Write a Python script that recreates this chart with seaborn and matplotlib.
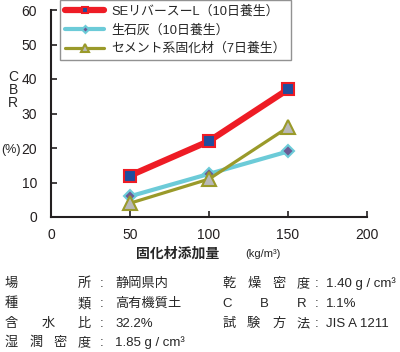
import matplotlib
matplotlib.use("Agg")
import matplotlib.pyplot as plt
import seaborn as sns
import pandas as pd

# data
amount = [50, 100, 150]
se_river = [12, 22, 37]
quicklime = [6, 12.5, 19]
cement = [4, 11, 26]
series_names = ["SEリバースーL（10日養生）", "生石灰（10日養生）", "セメント系固化材（7日養生）"]

x_ticks = [0, 50, 100, 150, 200]
y_ticks = [0, 10, 20, 30, 40, 50, 60]

left_labels = ["場所", "種類", "含水比", "湿潤密度"]
left_values = ["静岡県内", "高有機質土", "32.2%", "1.85 g / cm³"]
right_labels = ["乾燥密度", "CBR", "試験方法"]
right_values = ["1.40 g / cm³", "1.1%", "JIS A 1211"]

sns.set_style("white")
plt.rcParams["font.family"] = ["Liberation Sans", "Noto Sans CJK JP", "DejaVu Sans"]

W, H = 400, 352
fig = plt.figure(figsize=(W / 100, H / 100), dpi=100)
ax = fig.add_axes([51 / W, 1 - 217 / H, (367 - 51) / W, (217 - 10) / H])

styles = [
    dict(color="#ee1c25", lw=4.5, marker="s", ms=9, mfc="#1f4e9e", mec="#ee1c25", mew=1.5),
    dict(color="#6ccbd8", lw=3, marker="D", ms=6.5, mfc="#6b5b95", mec="#6ccbd8", mew=1.5),
    dict(color="#9a9a2a", lw=2.3, marker="^", ms=10.5, mfc="#b8b8b8", mec="#9a9a2a", mew=1.5),
]
df = pd.DataFrame({"amount": amount, series_names[0]: se_river,
                   series_names[1]: quicklime, series_names[2]: cement})
for name, st in zip(series_names, styles):
    sns.lineplot(x="amount", y=name, data=df, ax=ax, label=name, **st)

ax.set_xlim(0, 200)
ax.set_ylim(0, 60)
ax.set_xticks(x_ticks)
ax.set_yticks(y_ticks)
ax.set_xlabel("")
ax.set_ylabel("")
for s in ["top", "right"]:
    ax.spines[s].set_visible(False)
for s in ["left", "bottom"]:
    ax.spines[s].set_color("#231f20")
    ax.spines[s].set_linewidth(1.5)
ax.tick_params(axis="both", direction="in", length=4, width=1.2, labelsize=10,
               colors="#231f20", left=True, bottom=True)
ax.tick_params(axis="y", pad=10)
ax.tick_params(axis="x", pad=8)

leg = ax.legend(loc="upper left", bbox_to_anchor=(60 / W, 1.0), bbox_transform=fig.transFigure,
                fontsize=9.3, frameon=True, fancybox=False, handlelength=3.0, markerscale=0.55,
                labelspacing=0.5, borderpad=0.4, handletextpad=0.6, borderaxespad=0)
leg.get_frame().set_edgecolor("#777777")
leg.get_frame().set_linewidth(1.0)

# axis labels
fig.text(13 / W, 1 - 90 / H, "C\nB\nR", ha="center", va="center", fontsize=10, linespacing=0.95)
fig.text(1 / W, 1 - 150 / H, "(%)", ha="left", va="center", fontsize=9)
fig.text(178 / W, 1 - 254 / H, "固化材添加量", ha="center", va="center", fontsize=10, fontweight="bold")
fig.text(245 / W, 1 - 254 / H, "(kg/m³)", ha="left", va="center", fontsize=8)


def spread(label, x0, x1, y):
    n = len(label)
    for i, ch in enumerate(label):
        x = x0 if n == 1 else x0 + (x1 - x0) * i / (n - 1)
        fig.text(x / W, 1 - y / H, ch, ha="left", va="center", fontsize=9.5)


rows_y = [284, 304, 324, 343]
for lab, val, y in zip(left_labels, left_values, rows_y):
    spread(lab, 5, 78, y)
    fig.text(102 / W, 1 - y / H, ":", ha="center", va="center", fontsize=9.5)
    fig.text(115 / W, 1 - y / H, val, ha="left", va="center", fontsize=9.5)
for lab, val, y in zip(right_labels, right_values, rows_y):
    spread(lab, 222, 297, y)
    fig.text(317 / W, 1 - y / H, ":", ha="center", va="center", fontsize=9.5)
    fig.text(326 / W, 1 - y / H, val, ha="left", va="center", fontsize=9.5)

fig.savefig("out.png", dpi=100)
